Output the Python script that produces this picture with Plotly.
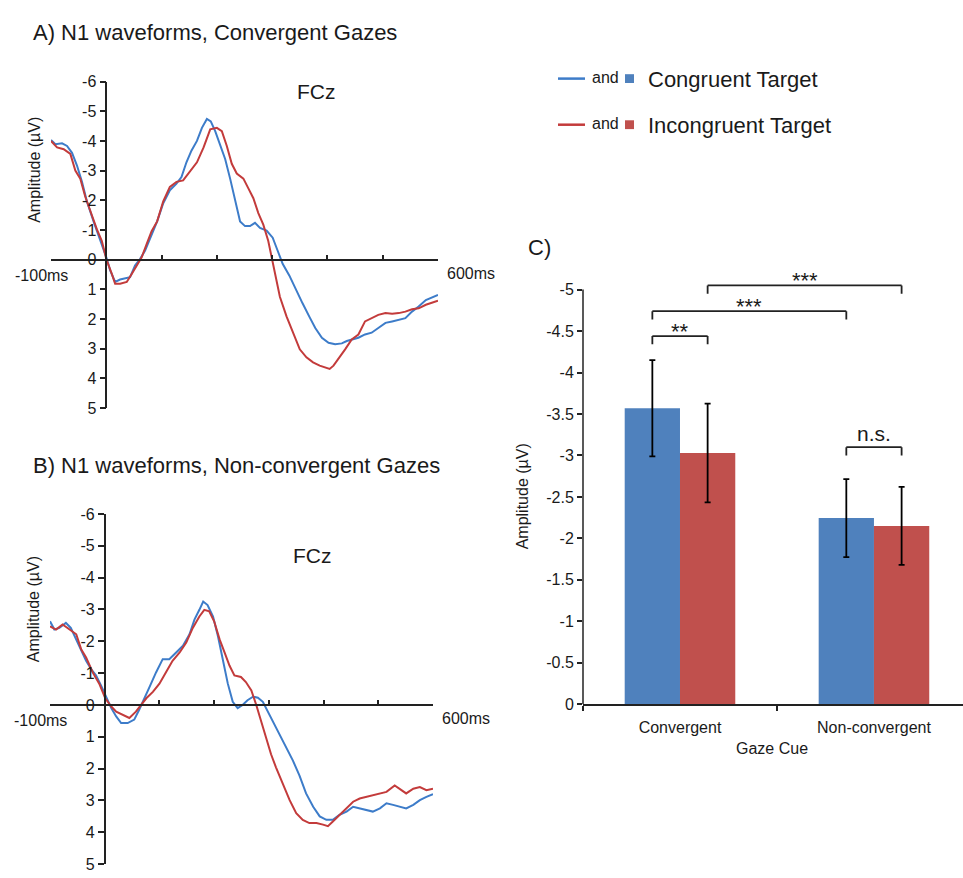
import plotly.graph_objects as go

FONT = "Liberation Sans, Arial, Helvetica, sans-serif"
TXT = "#1a1a1a"
AXIS = "#222222"
BLUE_LINE = "#3D7CC9"
RED_LINE = "#C33B3B"
BLUE_BAR = "#4F81BD"
RED_BAR = "#C0504D"

# ---------------- Data ----------------
# Panel A: N1 waveforms, convergent gazes (time in ms, amplitude in µV)
a_cong_t = [-100, -92, -80, -71, -62, -53, -44, -35, -23, -11, 0, 7, 16, 25, 34, 43, 52, 61, 70, 80,
            92, 103, 115, 127, 136, 145, 154, 164, 173, 182, 189, 197, 206, 215, 224, 233, 242, 251, 260, 269,
            278, 290, 301, 310, 319, 331, 343, 355, 367, 378, 390, 402, 414, 426, 435, 444, 456, 468, 480, 492,
            505, 517, 529, 541, 553, 565, 578, 600]
a_cong_v = [-4.03, -3.89, -3.92, -3.83, -3.6, -3.17, -2.62, -1.96, -1.29, -0.69, -0.08, 0.36, 0.75, 0.67, 0.64, 0.59, 0.2, -0.02, -0.3, -0.74,
            -1.29, -1.9, -2.34, -2.56, -2.78, -3.28, -3.67, -4.0, -4.44, -4.74, -4.66, -4.33, -3.89, -3.39, -2.73, -1.96, -1.29, -1.13, -1.13, -1.24,
            -1.07, -0.98, -0.74, -0.3, 0.14, 0.53, 1.03, 1.47, 1.91, 2.3, 2.63, 2.8, 2.85, 2.82, 2.74, 2.69, 2.63, 2.52, 2.46, 2.3,
            2.13, 2.08, 2.02, 1.97, 1.75, 1.58, 1.36, 1.19]
a_incong_t = [-100, -89, -77, -65, -56, -47, -38, -29, -17, -8, 0, 10, 16, 25, 37, 46, 55, 64, 73, 82,
              92, 103, 115, 127, 139, 151, 164, 176, 188, 200, 209, 218, 227, 236, 248, 257, 266, 275, 284, 293,
              302, 314, 326, 338, 350, 362, 374, 386, 398, 404, 411, 420, 432, 444, 456, 468, 480, 492, 505, 517,
              529, 541, 553, 565, 578, 600]
a_incong_v = [-4.0, -3.78, -3.72, -3.56, -3.0, -2.73, -2.12, -1.62, -1.02, -0.63, -0.02, 0.48, 0.81, 0.81, 0.75, 0.48, 0.2, -0.08, -0.52, -0.96,
              -1.29, -1.96, -2.45, -2.62, -2.67, -2.95, -3.28, -3.78, -4.39, -4.44, -4.33, -3.83, -3.23, -2.9, -2.73, -2.4, -2.07, -1.57, -1.18, -0.63,
              0.14, 1.25, 1.91, 2.46, 3.02, 3.29, 3.46, 3.57, 3.65, 3.68, 3.57, 3.35, 3.02, 2.69, 2.52, 2.08, 1.97, 1.86, 1.8, 1.82,
              1.8, 1.75, 1.67, 1.64, 1.52, 1.38]

# Panel B: N1 waveforms, non-convergent gazes
b_cong_t = [-100, -92, -83, -71, -62, -52, -43, -34, -25, -16, -7, 1, 12, 21, 30, 42, 54, 63, 73, 82,
            94, 106, 118, 130, 143, 155, 164, 173, 180, 188, 198, 207, 216, 225, 234, 243, 252, 261, 271, 280,
            289, 298, 307, 320, 332, 344, 356, 368, 381, 393, 405, 417, 429, 442, 454, 466, 478, 490, 503, 515,
            527, 539, 551, 564, 576, 588, 600]
b_cong_v = [-2.63, -2.37, -2.42, -2.58, -2.42, -2.06, -1.75, -1.39, -1.13, -0.93, -0.62, -0.31, 0.1, 0.36, 0.57, 0.57, 0.46, 0.15, -0.26, -0.57,
            -1.03, -1.44, -1.44, -1.65, -1.86, -2.22, -2.68, -2.99, -3.25, -3.14, -2.78, -2.16, -1.39, -0.67, -0.1, 0.1, 0.0, -0.15, -0.26, -0.23,
            -0.1, 0.21, 0.52, 0.93, 1.34, 1.75, 2.22, 2.78, 3.2, 3.5, 3.61, 3.61, 3.45, 3.35, 3.2, 3.25, 3.3, 3.35, 3.25, 3.09,
            3.14, 3.2, 3.25, 3.14, 2.99, 2.89, 2.8]
b_incong_t = [-100, -89, -77, -65, -52, -43, -34, -22, -10, 1, 12, 21, 33, 45, 57, 66, 76, 88, 100, 112,
              124, 137, 149, 161, 173, 182, 191, 200, 210, 219, 228, 237, 249, 258, 268, 277, 286, 295, 304, 313,
              326, 338, 350, 362, 374, 387, 399, 408, 417, 429, 442, 454, 466, 478, 490, 503, 515, 530, 539, 551,
              564, 576, 588, 600]
b_incong_v = [-2.47, -2.37, -2.53, -2.37, -2.22, -1.75, -1.49, -1.03, -0.67, -0.21, 0.05, 0.21, 0.31, 0.41, 0.21, 0.0, -0.21, -0.41, -0.67, -1.03,
              -1.39, -1.65, -1.96, -2.42, -2.78, -2.99, -2.94, -2.63, -2.06, -1.65, -1.24, -0.93, -0.88, -0.72, -0.46, 0.0, 0.52, 1.03, 1.55, 1.96,
              2.47, 2.99, 3.4, 3.61, 3.71, 3.71, 3.76, 3.81, 3.66, 3.45, 3.25, 3.04, 2.94, 2.89, 2.84, 2.78, 2.73, 2.53, 2.63, 2.78,
              2.63, 2.58, 2.68, 2.63]

wave_xticks = [-100, 0, 100, 200, 300, 400, 500, 600]
wave_yticks = [-6, -5, -4, -3, -2, -1, 0, 1, 2, 3, 4, 5]
wave_yticktext = ["-6", "-5", "-4", "-3", "-2", "-1", "0", "1", "2", "3", "4", "5"]

# Panel C: mean N1 amplitude (µV) with error bars
gaze_cues = ["Convergent", "Non-convergent"]
cong_amp = [-3.57, -2.245]
incong_amp = [-3.03, -2.15]
cong_err = [0.58, 0.47]
incong_err = [0.595, 0.47]
bar_yticks = [-5, -4.5, -4, -3.5, -3, -2.5, -2, -1.5, -1, -0.5, 0]
bar_yticktext = ["-5", "-4.5", "-4", "-3.5", "-3", "-2.5", "-2", "-1.5", "-1", "-0.5", "0"]

# significance brackets: bar slots 0=Conv/Cong, 1=Conv/Incong, 2=Non-conv/Cong, 3=Non-conv/Incong
bracket_from = [0, 0, 1, 2]
bracket_to = [1, 2, 3, 3]
bracket_level = [-4.44, -4.74, -5.05, -3.10]
bracket_label = ["**", "***", "***", "n.s."]

# ---------------- Layout geometry ----------------
W, H = 963, 878
A_xdom = [51 / W, 438 / W]
A_ydom = [1 - 408 / H, 1 - 75 / H]
B_xdom = [50 / W, 433 / W]
B_ydom = [1 - 873 / H, 1 - 516 / H]
C_xdom = [583 / W, 1.0]
C_ydom = [1 - 710 / H, 1 - 266 / H]
wave_xrange = [-100, 600]
wave_yrange = [5, -6]
bar_xrange = [-0.5, 1.459]
bar_yrange = [0, -5.25]
BARGAP = 0.43


def to_paper(v, dom, rng):
    return dom[0] + (dom[1] - dom[0]) * (v - rng[0]) / (rng[1] - rng[0])


fig = go.Figure()

for t, v, col, xa, ya in [
    (a_cong_t, a_cong_v, BLUE_LINE, "x", "y"),
    (a_incong_t, a_incong_v, RED_LINE, "x", "y"),
    (b_cong_t, b_cong_v, BLUE_LINE, "x2", "y2"),
    (b_incong_t, b_incong_v, RED_LINE, "x2", "y2"),
]:
    fig.add_trace(go.Scatter(x=t, y=v, mode="lines", xaxis=xa, yaxis=ya,
                             line=dict(color=col, width=2), showlegend=False,
                             hoverinfo="skip"))

fig.add_trace(go.Bar(x=gaze_cues, y=cong_amp, xaxis="x3", yaxis="y3", name="Congruent Target",
                     marker=dict(color=BLUE_BAR, line=dict(width=0)), showlegend=False,
                     error_y=dict(type="data", array=cong_err, color="black", thickness=1.8, width=3)))
fig.add_trace(go.Bar(x=gaze_cues, y=incong_amp, xaxis="x3", yaxis="y3", name="Incongruent Target",
                     marker=dict(color=RED_BAR, line=dict(width=0)), showlegend=False,
                     error_y=dict(type="data", array=incong_err, color="black", thickness=1.8, width=3)))

tickfont = dict(family=FONT, size=16, color=TXT)


def wave_axes(xdom, ydom):
    xa = dict(domain=xdom, range=wave_xrange, anchor="free",
              position=to_paper(0, ydom, wave_yrange),
              showline=True, linecolor=AXIS, linewidth=1.5,
              ticks="inside", ticklen=4, tickwidth=1.5, tickcolor=AXIS,
              tickmode="array", tickvals=wave_xticks, showticklabels=False,
              showgrid=False, zeroline=False)
    ya = dict(domain=ydom, range=wave_yrange, anchor="free",
              position=to_paper(0, xdom, wave_xrange),
              showline=True, linecolor=AXIS, linewidth=1.5,
              ticks="outside", ticklen=6, tickwidth=1.5, tickcolor=AXIS,
              tickmode="array", tickvals=wave_yticks, ticktext=wave_yticktext,
              tickfont=tickfont, showgrid=False, zeroline=False)
    return xa, ya


xa1, ya1 = wave_axes(A_xdom, A_ydom)
xa2, ya2 = wave_axes(B_xdom, B_ydom)

shapes = []
annotations = []

# y axis line of bar chart (only up to -5)
shapes.append(dict(type="line", xref="x3 domain", yref="y3", x0=0, x1=0, y0=0, y1=-5,
                   line=dict(color=AXIS, width=1.5)))

# brackets
slot_off = (1 - BARGAP) / 4


def slot_x(k):
    return k // 2 + (-slot_off if k % 2 == 0 else slot_off)


LEG = 0.1
for f, t, lvl, lab in zip(bracket_from, bracket_to, bracket_level, bracket_label):
    x0, x1 = slot_x(f), slot_x(t)
    for seg in [(x0, lvl + LEG, x0, lvl), (x0, lvl, x1, lvl), (x1, lvl, x1, lvl + LEG)]:
        shapes.append(dict(type="line", xref="x3", yref="y3", x0=seg[0], y0=seg[1], x1=seg[2], y1=seg[3],
                           line=dict(color=AXIS, width=1.8)))
    if lab == "n.s.":
        annotations.append(dict(x=(x0 + x1) / 2, y=lvl, xref="x3", yref="y3", text=lab, showarrow=False,
                                yanchor="bottom", yshift=0, font=dict(family=FONT, size=21, color=TXT)))
    else:
        annotations.append(dict(x=(x0 + x1) / 2, y=lvl, xref="x3", yref="y3", text=lab, showarrow=False,
                                yanchor="middle", yshift=5, font=dict(family=FONT, size=22, color=TXT)))


def pa(text, x, y, size, xanchor="left", yanchor="middle", angle=0):
    annotations.append(dict(text=text, x=x / W, y=1 - y / H, xref="paper", yref="paper",
                            xanchor=xanchor, yanchor=yanchor, textangle=angle, showarrow=False,
                            font=dict(family=FONT, size=size, color=TXT)))


# titles
pa("A) N1 waveforms, Convergent Gazes", 31, 25, 22)
pa("B) N1 waveforms, Non-convergent Gazes", 31, 467, 22)
pa("C)", 526, 244, 22)

# y axis titles
pa("Amplitude (µV)", 35, 165, 16, xanchor="center", angle=-90)
pa("Amplitude (µV)", 33, 613, 16, xanchor="center", angle=-90)
pa("Amplitude (µV)", 522, 498, 16, xanchor="center", angle=-90)
pa("Gaze Cue", 772, 755, 16, xanchor="center")

# FCz labels and ms labels
for xa, ya, fy in [("x", "y", -5.67), ("x2", "y2", -4.7)]:
    annotations.append(dict(text="FCz", x=380, y=fy, xref=xa, yref=ya, showarrow=False,
                            font=dict(family=FONT, size=21, color=TXT)))
    annotations.append(dict(text="-100ms", x=-100, y=0, xref=xa, yref=ya, showarrow=False,
                            xanchor="center", yanchor="middle", xshift=-10, yshift=-16,
                            font=dict(family=FONT, size=16, color=TXT)))
    annotations.append(dict(text="600ms", x=600, y=0, xref=xa, yref=ya, showarrow=False,
                            xanchor="left", yanchor="middle", xshift=7, yshift=-14,
                            font=dict(family=FONT, size=16, color=TXT)))

# legend
for yy, lc, bc, lab in [(72, BLUE_LINE, BLUE_BAR, "Congruent Target"), (119, RED_LINE, RED_BAR, "Incongruent Target")]:
    shapes.append(dict(type="line", xref="paper", yref="paper", x0=558 / W, x1=585 / W,
                       y0=1 - yy / H, y1=1 - yy / H, line=dict(color=lc, width=2.5)))
    shapes.append(dict(type="rect", xref="paper", yref="paper", x0=625 / W, x1=634 / W,
                       y0=1 - (yy + 4.5) / H, y1=1 - (yy - 4.5) / H, line=dict(width=0), fillcolor=bc))
    pa("and", 605, yy - 1, 16, xanchor="center")
    pa(lab, 646, yy + 1, 22)

fig.update_layout(
    width=W, height=H,
    margin=dict(l=0, r=0, t=0, b=0),
    paper_bgcolor="white", plot_bgcolor="white",
    font=dict(family=FONT, color=TXT),
    barmode="group", bargap=BARGAP, bargroupgap=0,
    showlegend=False,
    xaxis=xa1, yaxis=ya1, xaxis2=xa2, yaxis2=ya2,
    xaxis3=dict(domain=C_xdom, range=bar_xrange, anchor="y3", type="category",
                tickson="boundaries", ticks="outside", ticklen=5, tickwidth=1.5, tickcolor=AXIS,
                showline=True, linecolor=AXIS, linewidth=1.5, tickfont=tickfont,
                ticklabelstandoff=8,
                showgrid=False, zeroline=False),
    yaxis3=dict(domain=C_ydom, range=bar_yrange, anchor="x3", showline=False,
                ticks="outside", ticklen=5, tickwidth=1.5, tickcolor=AXIS,
                tickmode="array", tickvals=bar_yticks, ticktext=bar_yticktext,
                tickfont=tickfont, showgrid=False, zeroline=False),
    shapes=shapes,
    annotations=annotations,
)

fig.write_html("out.html", config={"displayModeBar": False},
               post_script="document.body.style.margin='0';document.body.style.overflow='hidden';")
